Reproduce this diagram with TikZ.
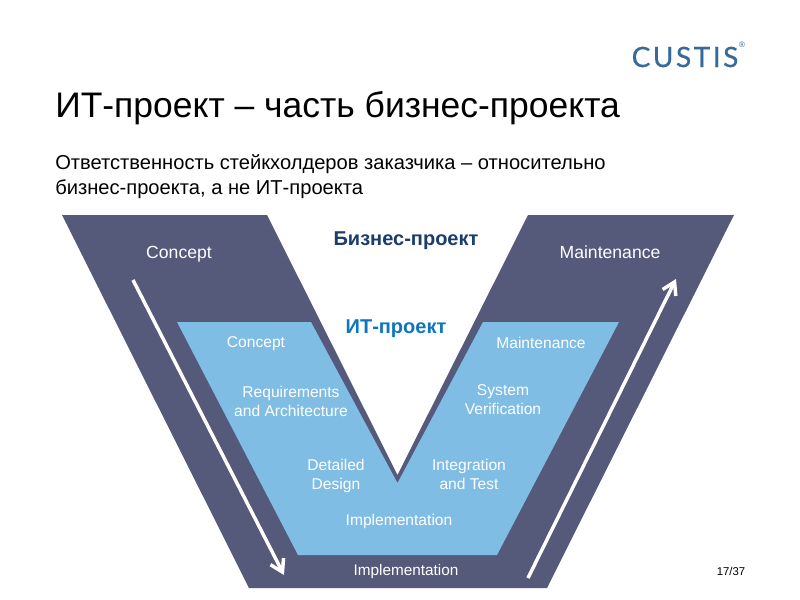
\documentclass[tikz,border=0pt]{standalone}
\usepackage{fontspec}
\setmainfont{Liberation Sans}
\newfontfamily\logofont[LetterSpace=9,FakeBold=0.6]{Lato}
\usetikzlibrary{arrows.meta}
\definecolor{darkv}{HTML}{55597A}
\definecolor{lightv}{HTML}{7FBDE4}
\definecolor{navyt}{HTML}{1B3D6D}
\definecolor{bluet}{HTML}{0F76BD}
\definecolor{logoc}{HTML}{356A9B}
\tikzset{
  x=0.75pt,y=-0.75pt,
  txt/.style={inner sep=0pt,align=center,text=black},
  plain/.style={txt,anchor=west,align=left},
  outerlab/.style={txt,text=white,font=\fontsize{13.2}{15}\selectfont},
  innerlab/.style={txt,text=white,font=\fontsize{11.7}{14.2}\selectfont},
  bigarrow/.style={draw=white,line width=2.6pt,-{Straight Barb[length=9pt,width=11pt,line width=2.6pt]}},
}
\begin{document}
\begin{tikzpicture}
\useasboundingbox (0,0) rectangle (800,600);
\fill[white] (0,0) rectangle (800,600);
\fill[darkv] (62,215) -- (267,215) -- (397.5,475) -- (528,215) -- (734,215) -- (547,588) -- (249,588) -- cycle;
\fill[lightv] (177,322) -- (311,322) -- (397.5,483) -- (483,322) -- (619,322) -- (497,555) -- (298,555) -- cycle;
\coordinate (a1) at (133,280);
\coordinate (a2) at (284,575);
\coordinate (b1) at (528,578);
\coordinate (b2) at (676,279);
\draw[bigarrow] (a1) -- (a2);
\draw[bigarrow] (b1) -- (b2);
\node[plain,font=\fontsize{26.6}{30}\selectfont] (title) at (55,108.5) {ИТ-проект – часть бизнес-проекта};
\node[plain,font=\fontsize{15.1}{18.8}\selectfont] (sub) at (55,176.5) {Ответственность стейкхолдеров заказчика – относительно\\бизнес-проекта, а не ИТ-проекта};
\node[txt,text=navyt,font=\bfseries\fontsize{15}{18}\selectfont] (bp) at (406,240.5) {Бизнес-проект};
\node[txt,text=bluet,font=\bfseries\fontsize{15}{18}\selectfont] (ip) at (396,328.5) {ИТ-проект};
\node[outerlab] (oc) at (179,254.5) {Concept};
\node[outerlab] (om) at (610,252.5) {Maintenance};
\node[outerlab,font=\fontsize{11.5}{14}\selectfont] (oi) at (406,571.5) {Implementation};
\node[innerlab] (ic) at (256,344) {Concept};
\node[innerlab] (ir) at (291,401) {Requirements\\and Architecture};
\node[innerlab] (id) at (336,476) {Detailed\\Design};
\node[innerlab] (im) at (399,521) {Implementation};
\node[innerlab] (it) at (469,474.5) {Integration\\and Test};
\node[innerlab] (iv) at (503,400) {System\\Verification};
\node[innerlab] (ia) at (541,342.5) {Maintenance};
\node[txt,font=\fontsize{8.5}{10}\selectfont] (pg) at (731,571) {17/37};
\node[txt,text=logoc,font=\logofont\fontsize{21}{24}\selectfont] (logo) at (685,57) {CUSTIS};
\node[txt,text=logoc,font=\fontsize{6}{7}\selectfont] (reg) at (742,45) {®};
\end{tikzpicture}
\end{document}
